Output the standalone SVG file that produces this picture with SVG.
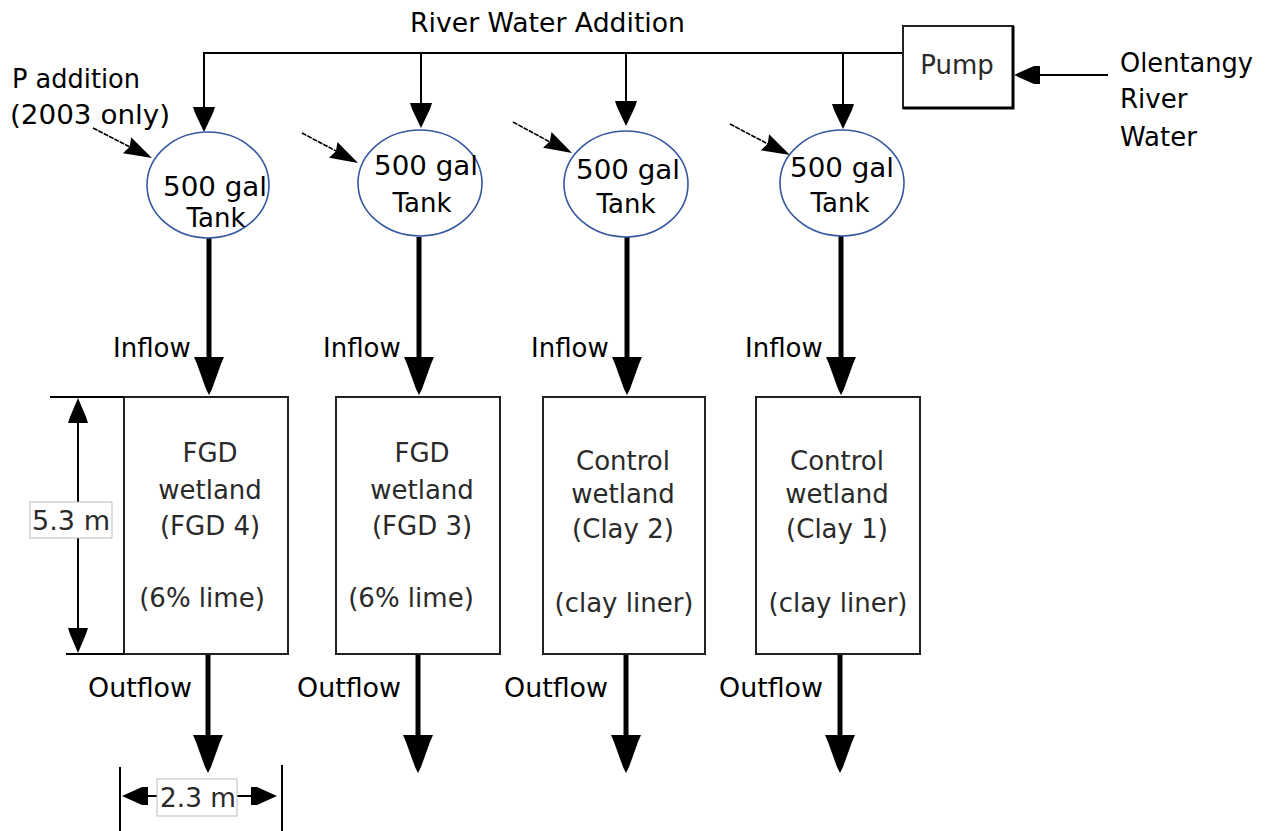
<svg xmlns="http://www.w3.org/2000/svg" width="1271" height="831" viewBox="0 0 1271 831">
<style>
.lbl{font-family:"DejaVu Sans",Verdana,sans-serif;font-size:26px;fill:#000}
.txt{font-family:"DejaVu Sans",Verdana,sans-serif;font-size:26px;fill:#2a2a2a;text-anchor:middle}
.tk{font-family:"DejaVu Sans",Verdana,sans-serif;font-size:26px;fill:#000;text-anchor:middle}
.thin{stroke:#000;stroke-width:2;fill:none}
.thick{stroke:#000;stroke-width:5;fill:none}
.diag{stroke:#000;stroke-width:1.6;fill:none;stroke-dasharray:5 1}
.tank{fill:#fff;stroke:#3558a0;stroke-width:1.6}
.box{fill:#fff;stroke:#222;stroke-width:2}
.dimbox{fill:#fff;stroke:#bbb;stroke-width:1}
</style>
<defs>
<path id="bigHead" d="M0,0 L-3,-6 L-12,-31 L-15,-38 L15,-38 L12,-31 L3,-6 Z" fill="#000"/>
<path id="smallHead" d="M0,0 L-9,-19 L-11,-25 L11,-25 L9,-19 Z" fill="#000"/>
<path id="diagHead" d="M0,0 L-28,-9 L-25,0 L-28,9 Z" fill="#000"/>
<path id="dimHead" d="M0,0 L-8,-19 L-10,-25 L10,-25 L8,-19 Z" fill="#000"/>
<path id="hHead" d="M0,0 L20,-9 L26,-9 L26,9 L20,9 Z" fill="#000"/>
</defs>

<g id="connectors">
  <polyline class="thin" points="204,120 204,53 903,53"/>
  <line class="thin" x1="421" y1="53" x2="421" y2="115"/>
  <line class="thin" x1="626" y1="53" x2="626" y2="110"/>
  <line class="thin" x1="843" y1="53" x2="843" y2="115"/>
  <use href="#smallHead" x="204" y="132"/>
  <use href="#smallHead" x="421" y="128"/>
  <use href="#smallHead" x="626" y="126"/>
  <use href="#smallHead" x="843" y="129"/>
  <line class="thin" x1="1108" y1="75" x2="1030" y2="75"/>
  <use href="#hHead" x="1014" y="75"/>
  <line class="diag" x1="93" y1="128" x2="130" y2="147"/>
  <use href="#diagHead" transform="translate(152,158) rotate(27)"/>
  <line class="diag" x1="302" y1="133" x2="336" y2="151"/>
  <use href="#diagHead" transform="translate(358,163) rotate(28)"/>
  <line class="diag" x1="513" y1="122" x2="550" y2="142"/>
  <use href="#diagHead" transform="translate(572,153) rotate(28)"/>
  <line class="diag" x1="730" y1="124" x2="768" y2="144"/>
  <use href="#diagHead" transform="translate(790,155) rotate(27)"/>
  <line class="thick" x1="209" y1="238" x2="209" y2="360"/>
  <line class="thick" x1="419" y1="237" x2="419" y2="360"/>
  <line class="thick" x1="627" y1="237" x2="627" y2="360"/>
  <line class="thick" x1="841" y1="236" x2="841" y2="360"/>
  <use href="#bigHead" x="209" y="395"/>
  <use href="#bigHead" x="419" y="395"/>
  <use href="#bigHead" x="627" y="395"/>
  <use href="#bigHead" x="841" y="395"/>
  <line class="thick" x1="208" y1="655" x2="208" y2="740"/>
  <line class="thick" x1="418" y1="655" x2="418" y2="740"/>
  <line class="thick" x1="626" y1="655" x2="626" y2="740"/>
  <line class="thick" x1="840" y1="655" x2="840" y2="740"/>
  <use href="#bigHead" x="208" y="773"/>
  <use href="#bigHead" x="418" y="773"/>
  <use href="#bigHead" x="626" y="773"/>
  <use href="#bigHead" x="840" y="773"/>
</g>

<g id="labels">
  <text class="lbl" x="410" y="32" textLength="275" lengthAdjust="spacingAndGlyphs">River Water Addition</text>
  <text class="lbl" x="12" y="88" textLength="128" lengthAdjust="spacingAndGlyphs">P addition</text>
  <text class="lbl" x="10" y="124" textLength="160" lengthAdjust="spacingAndGlyphs">(2003 only)</text>
  <text class="lbl" x="1120" y="72" textLength="133" lengthAdjust="spacingAndGlyphs">Olentangy</text>
  <text class="lbl" x="1120" y="108">River</text>
  <text class="lbl" x="1120" y="146">Water</text>
  <text class="lbl" x="113" y="357">Inflow</text>
  <text class="lbl" x="323" y="357">Inflow</text>
  <text class="lbl" x="531" y="357">Inflow</text>
  <text class="lbl" x="745" y="357">Inflow</text>
  <text class="lbl" x="88" y="697" textLength="104" lengthAdjust="spacingAndGlyphs">Outflow</text>
  <text class="lbl" x="297" y="697" textLength="104" lengthAdjust="spacingAndGlyphs">Outflow</text>
  <text class="lbl" x="504" y="697" textLength="104" lengthAdjust="spacingAndGlyphs">Outflow</text>
  <text class="lbl" x="719" y="697" textLength="104" lengthAdjust="spacingAndGlyphs">Outflow</text>
</g>

<g id="pump">
  <rect class="box" x="903" y="26" width="110" height="82"/>
  <polyline points="903,108 1013,108 1013,26" fill="none" stroke="#000" stroke-width="3"/>
  <text class="txt" x="957" y="74">Pump</text>
</g>

<g id="tank1">
  <ellipse class="tank" cx="208" cy="185" rx="61" ry="53"/>
  <text class="tk" x="215" y="196" textLength="104" lengthAdjust="spacingAndGlyphs">500 gal</text>
  <text class="tk" x="216" y="227">Tank</text>
</g>
<g id="tank2">
  <ellipse class="tank" cx="420" cy="183" rx="62" ry="53"/>
  <text class="tk" x="426" y="175" textLength="104" lengthAdjust="spacingAndGlyphs">500 gal</text>
  <text class="tk" x="422" y="212">Tank</text>
</g>
<g id="tank3">
  <ellipse class="tank" cx="626" cy="184" rx="62" ry="53"/>
  <text class="tk" x="628" y="179" textLength="104" lengthAdjust="spacingAndGlyphs">500 gal</text>
  <text class="tk" x="626" y="213">Tank</text>
</g>
<g id="tank4">
  <ellipse class="tank" cx="842" cy="183" rx="62" ry="53"/>
  <text class="tk" x="842" y="177" textLength="104" lengthAdjust="spacingAndGlyphs">500 gal</text>
  <text class="tk" x="840" y="212">Tank</text>
</g>

<g id="wetland-fgd4">
  <rect class="box" x="124" y="397" width="164" height="257"/>
  <text class="txt" x="210" y="462">FGD</text>
  <text class="txt" x="210" y="499">wetland</text>
  <text class="txt" x="210" y="535">(FGD 4)</text>
  <text class="txt" x="202" y="607">(6% lime)</text>
</g>
<g id="wetland-fgd3">
  <rect class="box" x="336" y="397" width="164" height="257"/>
  <text class="txt" x="422" y="462">FGD</text>
  <text class="txt" x="422" y="499">wetland</text>
  <text class="txt" x="422" y="535">(FGD 3)</text>
  <text class="txt" x="411" y="607">(6% lime)</text>
</g>
<g id="wetland-clay2">
  <rect class="box" x="543" y="397" width="162" height="257"/>
  <text class="txt" x="623" y="470">Control</text>
  <text class="txt" x="623" y="503">wetland</text>
  <text class="txt" x="623" y="538">(Clay 2)</text>
  <text class="txt" x="624" y="612">(clay liner)</text>
</g>
<g id="wetland-clay1">
  <rect class="box" x="756" y="397" width="164" height="257"/>
  <text class="txt" x="837" y="470">Control</text>
  <text class="txt" x="837" y="503">wetland</text>
  <text class="txt" x="837" y="538">(Clay 1)</text>
  <text class="txt" x="838" y="612">(clay liner)</text>
</g>

<g id="dim-height">
  <line class="thin" x1="50" y1="397" x2="124" y2="397"/>
  <line class="thin" x1="66" y1="654" x2="124" y2="654"/>
  <line class="thin" x1="78" y1="410" x2="78" y2="640"/>
  <use href="#dimHead" transform="translate(78,398) rotate(180)"/>
  <use href="#dimHead" x="78" y="653"/>
  <rect class="dimbox" x="30" y="502" width="82" height="36"/>
  <text class="txt" x="71" y="530" textLength="78" lengthAdjust="spacingAndGlyphs">5.3 m</text>
</g>

<g id="dim-width">
  <line class="thin" x1="120" y1="767" x2="120" y2="831"/>
  <line class="thin" x1="282" y1="765" x2="282" y2="831"/>
  <line class="thin" x1="140" y1="796" x2="157" y2="796"/>
  <line class="thin" x1="237" y1="796" x2="262" y2="796"/>
  <use href="#hHead" x="122" y="796"/>
  <use href="#hHead" transform="translate(277,796) rotate(180)"/>
  <rect class="dimbox" x="157" y="779" width="80" height="37"/>
  <text class="txt" x="198" y="807" textLength="76" lengthAdjust="spacingAndGlyphs">2.3 m</text>
</g>
</svg>
